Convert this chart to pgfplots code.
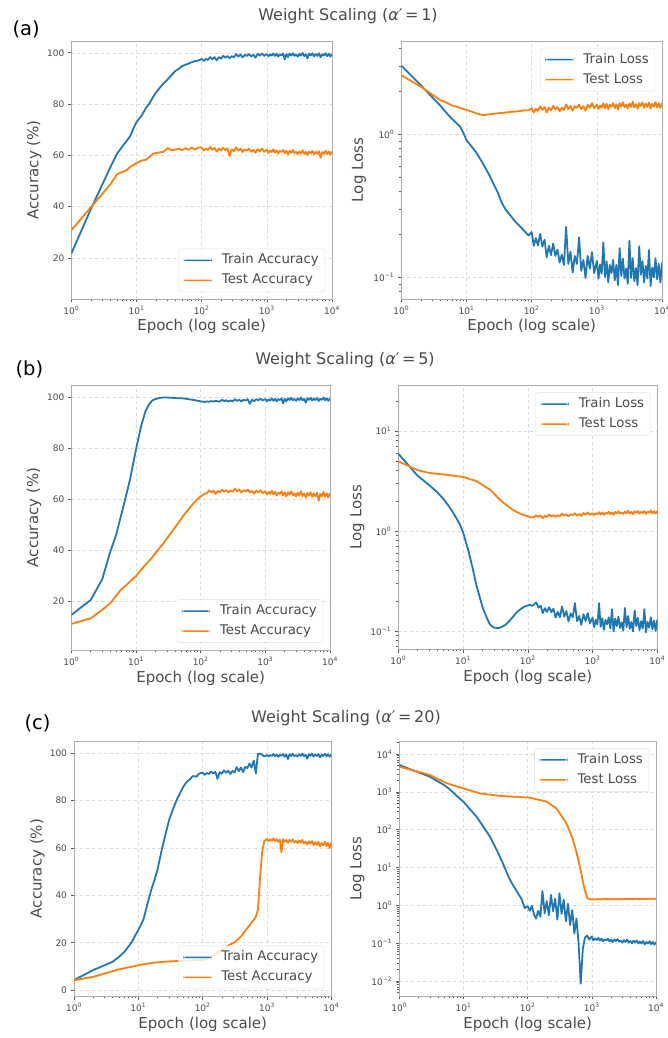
\documentclass[border=0pt]{standalone}
\usepackage{pgfplots}
\pgfplotsset{compat=1.18}
\usepackage{pgfplotstable}
\usepackage{fontspec}
\setmainfont{DejaVu Sans}
\definecolor{tabblue}{HTML}{1F77B4}
\definecolor{taborange}{HTML}{FF7F0E}
\definecolor{txt}{HTML}{4A4A4A}

\pgfplotstableread{
x atr ate ltr lte
1 21.7 30.8 3.02 2.59
2 39.1 39.8 2.2 2.15
3 48.7 45.0 1.81 1.89
4 55.5 48.8 1.58 1.73
5 60.5 52.6 1.40 1.66
6 63.3 53.5 1.28 1.59
7 65.5 54.2 1.20 1.56
8 67.5 55.5 1.13 1.53
9 70.5 56.3 1.02 1.50
10 73.0 57.0 0.91 1.48
12 75.5 58.0 0.82 1.44
14 78.5 58.3 0.75 1.40
16 80.5 59.5 0.68 1.38
18 82.8 60.7 0.62 1.36
20 84.5 60.9 0.57 1.37
23 86.5 61.2 0.505 1.38
26 88.0 61.4 0.45 1.39
30 89.6 62.8 0.394 1.40
35 91.5 62.0 0.33 1.41
40 93.0 62.3 0.297 1.42
45 93.8 62.6 0.278 1.43
50 94.8 62.0 0.262 1.44
56 95.3 62.8 0.245 1.44
63 95.8 62.2 0.232 1.45
70 96.3 63.0 0.221 1.46
80 96.8 62.3 0.207 1.47
90 97.0 63.1 0.196 1.47
100 97.6 63.0 0.207 1.52
108 96.8 61.9 0.166 1.42
116 97.6 62.7 0.188 1.51
125 97.2 62.1 0.167 1.46
135 98.3 63.3 0.201 1.57
146 97.5 62.2 0.164 1.48
158 98.3 62.9 0.183 1.55
170 97.0 61.5 0.138 1.42
184 98.3 62.6 0.166 1.54
198 97.7 61.9 0.143 1.47
214 98.8 63.0 0.172 1.58
231 98.1 62.0 0.141 1.49
249 98.7 62.7 0.156 1.55
269 97.9 59.8 0.127 1.45
290 98.7 62.3 0.144 1.53
313 98.2 61.7 0.122 1.48
338 99.5 63.1 0.225 1.62
365 98.5 61.8 0.124 1.50
394 99.3 62.6 0.151 1.58
425 98.2 61.3 0.108 1.46
459 99.2 62.3 0.141 1.57
495 98.8 61.8 0.124 1.53
534 99.5 62.6 0.19 1.61
576 98.6 61.4 0.111 1.50
622 99.2 62.1 0.132 1.57
671 98.1 61.0 0.099 1.46
724 99.6 62.4 0.141 1.61
781 98.9 61.6 0.115 1.53
843 99.7 62.6 0.150 1.65
910 98.8 61.4 0.107 1.52
1000 99.5 62.2 0.130 1.61
1059 98.7 61.0 0.098 1.50
1122 99.3 61.9 0.123 1.59
1189 98.9 61.3 0.106 1.54
1259 99.7 62.4 0.175 1.65
1334 98.8 61.1 0.100 1.52
1413 99.6 62.0 0.129 1.63
1496 98.5 60.7 0.092 1.50
1585 99.4 61.8 0.122 1.61
1679 99.0 61.3 0.107 1.56
1778 99.7 62.1 0.132 1.65
1884 97.4 60.8 0.095 1.52
1995 99.5 61.8 0.122 1.62
2113 98.3 60.4 0.088 1.49
2239 99.7 61.8 0.16 1.65
2371 98.9 61.0 0.102 1.56
2512 99.8 62.1 0.135 1.67
2661 98.8 60.8 0.098 1.54
2818 99.3 61.4 0.115 1.61
2985 98.5 60.4 0.090 1.52
3162 99.6 61.6 0.18 1.64
3350 98.9 60.7 0.099 1.55
3548 99.9 62.0 0.136 1.69
3758 98.7 60.5 0.094 1.54
3981 99.4 61.3 0.116 1.62
4217 97.8 60.2 0.088 1.51
4467 99.7 61.5 0.165 1.65
4732 99.0 60.8 0.104 1.58
5012 99.8 61.7 0.130 1.67
5309 98.6 60.4 0.092 1.53
5623 99.5 61.4 0.120 1.64
5957 98.8 60.6 0.098 1.55
6310 99.8 61.6 0.155 1.67
6683 98.3 59.1 0.087 1.51
7079 99.4 61.3 0.117 1.63
7499 98.9 60.6 0.100 1.56
7943 99.8 61.8 0.136 1.68
8414 98.7 60.5 0.097 1.54
8913 99.6 61.5 0.124 1.65
9441 98.5 60.3 0.092 1.53
10000 99.5 61.5 0.127 1.66
}\tA

\pgfplotstableread{
x atr ate ltr lte
1 14.8 11.3 5.93 4.97
2 20.7 13.5 3.55 4.05
3 28.7 16.8 2.87 3.80
4 39.5 19.4 2.44 3.72
5 46.6 22.5 2.08 3.67
6 54.6 25.0 1.78 3.62
7 61.3 26.4 1.53 3.57
8 67.3 27.8 1.32 3.53
9 73.7 29.0 1.15 3.50
10 79.5 30.0 0.97 3.47
12 88.7 32.5 0.645 3.34
14 94.5 34.4 0.43 3.24
16 97.3 36.0 0.29 3.15
18 98.8 37.5 0.221 3.01
20 99.3 39.0 0.173 2.88
23 99.7 40.9 0.138 2.72
26 99.9 42.5 0.116 2.59
30 99.9 44.7 0.108 2.36
35 99.8 47.0 0.107 2.13
40 99.7 49.0 0.110 1.97
45 99.6 50.8 0.115 1.85
50 99.6 52.4 0.123 1.75
56 99.5 54.2 0.133 1.66
63 99.3 55.7 0.146 1.59
70 99.1 57.2 0.157 1.53
80 98.9 58.9 0.168 1.47
90 98.6 60.2 0.176 1.43
100 98.4 61.2 0.180 1.40
108 98.3 61.8 0.183 1.37
116 98.1 62.3 0.178 1.37
125 98.4 62.4 0.184 1.38
135 98.2 63.5 0.193 1.435
146 98.5 62.75 0.171 1.38
158 98.3 63.5 0.179 1.43
170 98.6 62.2 0.151 1.34
184 98.4 63.35 0.169 1.42
198 98.35 62.8 0.155 1.38
214 99.0 63.85 0.173 1.46
231 98.5 63.05 0.154 1.40
249 98.85 63.6 0.167 1.44
269 98.3 62.75 0.136 1.38
290 98.75 63.5 0.156 1.44
313 98.4 63.0 0.137 1.40
338 99.25 64.3 0.176 1.49
365 98.55 63.2 0.139 1.42
394 99.05 63.9 0.158 1.47
425 98.35 62.75 0.125 1.40
459 99.0 63.65 0.150 1.47
495 98.75 63.2 0.137 1.44
534 99.25 63.85 0.19 1.50
576 97.4 62.75 0.125 1.42
622 99.0 63.35 0.141 1.48
671 98.45 62.3 0.115 1.41
724 99.25 63.55 0.147 1.51
781 98.8 62.75 0.126 1.46
843 99.45 63.6 0.151 1.53
910 98.75 62.45 0.119 1.45
1000 99.3 63.2 0.136 1.50
1059 98.45 61.95 0.109 1.44
1122 99.15 62.9 0.129 1.50
1189 98.7 62.25 0.116 1.47
1259 99.6 63.4 0.19 1.54
1334 98.6 61.95 0.110 1.46
1413 99.4 63.0 0.134 1.53
1496 98.4 61.6 0.103 1.45
1585 99.3 62.75 0.129 1.52
1679 98.9 62.2 0.117 1.49
1778 99.6 63.1 0.137 1.55
1884 97.6 61.65 0.106 1.47
1995 99.4 62.7 0.165 1.53
2113 98.4 61.2 0.099 1.45
2239 99.6 62.85 0.133 1.55
2371 98.9 61.85 0.112 1.50
2512 99.8 63.2 0.139 1.57
2661 98.8 61.55 0.107 1.49
2818 99.3 62.35 0.122 1.53
2985 98.6 61.15 0.101 1.48
3162 99.6 62.65 0.17 1.56
3350 98.9 61.55 0.109 1.50
3548 99.9 63.2 0.141 1.59
3758 98.8 61.3 0.105 1.49
3981 99.4 62.3 0.123 1.55
4217 97.9 60.85 0.099 1.47
4467 99.6 62.6 0.16 1.57
4732 99.0 61.65 0.112 1.52
5012 99.8 62.85 0.135 1.58
5309 98.7 61.0 0.102 1.49
5623 99.5 62.35 0.125 1.56
5957 98.9 61.25 0.106 1.51
6310 99.7 62.65 0.165 1.58
6683 98.5 59.5 0.097 1.48
7079 99.4 62.15 0.123 1.56
7499 99.0 61.3 0.108 1.52
7943 99.9 62.9 0.137 1.60
8414 98.8 61.1 0.104 1.50
8913 99.6 62.4 0.127 1.57
9441 98.6 60.8 0.100 1.49
10000 99.6 62.5 0.130 1.58
}\tB

\pgfplotstableread{
x atr ate ltr lte
1 4.2 4.2 5130 4630
2 8.5 5.6 3270 3360
3 10.5 7.0 2510 2790
4 12.0 8.0 1880 2190
5 14.0 8.7 1510 1815
6 16.0 9.2 1200 1600
7 18.3 9.6 940 1480
8 20.5 9.9 766 1380
9 23.2 10.2 638 1300
10 25.4 10.5 550 1240
12 29.8 10.9 382 1120
14 36.9 11.2 285 1040
16 42.6 11.4 221 970
18 46.8 11.6 164 912
20 51.2 11.7 126 890
23 58.9 11.9 88.5 863
26 65.0 12.0 65 839
30 71.7 12.1 40 813
35 76.8 12.2 23.5 789
40 80.7 12.3 14.3 778
45 83.4 12.4 8.96 767
50 85.9 12.5 5.9 759
56 87.8 12.5 4.0 750
63 89.0 12.6 2.88 741
70 90.4 12.6 2.14 735
80 90.2 12.7 1.49 724
90 91.6 12.7 0.85 713
100 91.8 12.8 0.95 705
108 90.9 13.0 0.72 702
116 91.7 13.3 0.98 684
125 91.3 13.6 0.58 661
135 92.3 14.0 0.45 641
146 91.5 14.5 0.72 622
158 92.2 15.0 0.50 603
170 89.2 15.6 2.4 585
184 92.1 16.2 0.62 566
198 91.4 16.8 1.3 550
214 92.8 17.5 0.55 502
231 91.8 18.2 1.9 458
249 92.7 18.8 0.70 420
269 91.3 19.3 1.5 383
290 92.6 19.7 0.42 339
313 91.9 20.2 2.1 277
338 94.2 21.0 0.60 229
365 92.5 21.8 1.4 189
394 94.0 22.6 0.38 156
425 92.1 23.9 1.1 118
459 94.3 25.0 0.30 85
495 93.8 26.2 0.75 62
534 95.7 27.3 0.18 41
576 94.0 28.5 0.45 25
622 97.0 29.6 0.10 14.7
671 91.5 31.0 0.0085 8.4
724 99.8 34.0 0.07 4.3
781 99.9 47.5 0.14 2.5
843 99.3 58.5 0.16 1.59
910 98.7 63.0 0.125 1.46
1000 99.3 63.8 0.15 1.44
1059 98.7 62.85 0.119 1.43
1122 99.3 63.66 0.132 1.46
1189 98.9 63.1 0.122 1.44
1259 99.7 64.05 0.139 1.47
1334 98.8 62.9 0.117 1.43
1413 99.6 63.75 0.132 1.46
1496 98.5 62.6 0.112 1.44
1585 99.4 63.55 0.127 1.52
1679 99.0 58.2 0.119 1.45
1778 99.7 63.76 0.132 1.47
1884 98.6 62.6 0.111 1.44
1995 99.5 63.4 0.125 1.47
2113 97.6 62.25 0.106 1.44
2239 99.6 63.5 0.126 1.48
2371 98.9 62.7 0.114 1.45
2512 99.8 63.65 0.129 1.48
2661 98.8 62.4 0.109 1.45
2818 99.3 63.0 0.117 1.47
2985 98.7 62.05 0.104 1.45
3162 99.6 63.15 0.120 1.48
3350 98.9 62.25 0.107 1.46
3548 99.9 63.45 0.125 1.49
3758 98.8 61.9 0.104 1.46
3981 99.4 62.7 0.114 1.48
4217 97.7 61.45 0.099 1.45
4467 99.6 62.9 0.117 1.49
4732 99.0 62.0 0.106 1.47
5012 99.8 62.95 0.117 1.50
5309 98.7 61.25 0.098 1.46
5623 99.5 62.45 0.111 1.49
5957 98.9 61.3 0.099 1.47
6310 99.7 62.65 0.114 1.50
6683 98.3 60.6 0.093 1.46
7079 99.4 62.1 0.107 1.49
7499 98.9 61.2 0.098 1.47
7943 99.8 62.7 0.113 1.51
8414 98.8 60.9 0.094 1.47
8913 99.6 62.2 0.107 1.50
9441 98.6 59.95 0.091 1.48
10000 99.6 62.2 0.107 1.51
}\tC

\newcommand{\tp}[1]{10\textsuperscript{#1}}

\pgfplotsset{
  legend image code/.code={\fill[#1, draw=none, fill opacity=1] (0pt,-0.8pt) rectangle (28pt,0.8pt);},
  /pgf/number format/assume math mode=true,
  every axis/.append style={
    scale only axis,
    xmin=1, xmax=10000,
    grid=major,
    major grid style={dashed, gray!30, line width=0.5pt},
    tick align=outside, xtick pos=bottom, ytick pos=left,
    major tick length=3.5pt, minor tick length=2pt,
    tick style={gray!70!black, line width=0.6pt},
    axis line style={gray!65, line width=0.8pt},
    xlabel={Epoch (log scale)},
    legend cell align=left,
  },
  every tick label/.append style={font=\fontsize{9}{11}\selectfont, text=txt},
  every axis label/.append style={font=\fontsize{15}{18}\selectfont, text=txt},
  every axis legend/.append style={font=\fontsize{13.3}{16}\selectfont, text=txt,
    draw=gray!25, fill=white, fill opacity=0.8, text opacity=1, draw opacity=1,
    rounded corners=2.5pt, inner xsep=5pt, inner ysep=4pt, row sep=5pt,
    nodes={inner xsep=1pt, inner ysep=2pt, text height=9pt, text depth=2pt},
    /tikz/every odd column/.style={column sep=9pt}},
  every axis plot/.append style={line width=1.8pt, line join=round},
}

\begin{document}
\begin{tikzpicture}
\useasboundingbox (0pt,0pt) rectangle (668pt,1038pt);

% ---------------- (a) ----------------
\begin{axis}[xmode=log, at={(71.3pt,739pt)}, anchor=south west, width=260.7pt, height=258pt,
  xtick={1,10,100,1000,10000},
  xticklabels={\tp{0},\tp{1},\tp{2},\tp{3},\tp{4}},
  minor xtick={2,3,4,5,6,7,8,9,20,30,40,50,60,70,80,90,200,300,400,500,600,700,800,900,2000,3000,4000,5000,6000,7000,8000,9000},
  ymin=4, ymax=104.6, ytick={20,40,60,80,100}, ylabel={Accuracy (\%)},
  legend style={at={(0.973,0.027)}, anchor=south east},
  xlabel style={at={(axis description cs:0.5,-0.105)}, anchor=center},
  ylabel style={at={(axis description cs:-0.142,0.5)}, anchor=center}]
\addplot[tabblue] table[x=x,y=atr]{\tA};
\addplot[taborange] table[x=x,y=ate]{\tA};
\legend{Train Accuracy, Test Accuracy}
\end{axis}

\begin{axis}[xmode=log, ymode=log, at={(401.3pt,739pt)}, anchor=south west, width=260.7pt, height=258pt,
  xtick={1,10,100,1000,10000},
  xticklabels={\tp{0},\tp{1},\tp{2},\tp{3},\tp{4}},
  minor xtick={2,3,4,5,6,7,8,9,20,30,40,50,60,70,80,90,200,300,400,500,600,700,800,900,2000,3000,4000,5000,6000,7000,8000,9000},
  ymin=0.0705, ymax=4.49, ylabel={Log Loss},
  ytick={0.1,1}, yticklabels={\tp{−1},\tp{0}},
  minor ytick={0.08,0.09,0.2,0.3,0.4,0.5,0.6,0.7,0.8,0.9,2,3,4},
  legend style={at={(0.973,0.973)}, anchor=north east},
  xlabel style={at={(axis description cs:0.5,-0.105)}, anchor=center},
  ylabel style={at={(axis description cs:-0.162,0.5)}, anchor=center}]
\addplot[tabblue] table[x=x,y=ltr]{\tA};
\addplot[taborange] table[x=x,y=lte]{\tA};
\legend{Train Loss, Test Loss}
\end{axis}

% ---------------- (b) ----------------
\begin{axis}[xmode=log, at={(71.3pt,388pt)}, anchor=south west, width=258.7pt, height=265pt,
  xtick={1,10,100,1000,10000},
  xticklabels={\tp{0},\tp{1},\tp{2},\tp{3},\tp{4}},
  minor xtick={2,3,4,5,6,7,8,9,20,30,40,50,60,70,80,90,200,300,400,500,600,700,800,900,2000,3000,4000,5000,6000,7000,8000,9000},
  ymin=1.1, ymax=104.8, ytick={20,40,60,80,100}, ylabel={Accuracy (\%)},
  legend style={at={(0.973,0.027)}, anchor=south east},
  xlabel style={at={(axis description cs:0.5,-0.106)}, anchor=center},
  ylabel style={at={(axis description cs:-0.144,0.5)}, anchor=center}]
\addplot[tabblue] table[x=x,y=atr]{\tB};
\addplot[taborange] table[x=x,y=ate]{\tB};
\legend{Train Accuracy, Test Accuracy}
\end{axis}

\begin{axis}[xmode=log, ymode=log, at={(398.3pt,388.7pt)}, anchor=south west, width=259pt, height=264pt,
  xtick={1,10,100,1000,10000},
  xticklabels={\tp{0},\tp{1},\tp{2},\tp{3},\tp{4}},
  minor xtick={2,3,4,5,6,7,8,9,20,30,40,50,60,70,80,90,200,300,400,500,600,700,800,900,2000,3000,4000,5000,6000,7000,8000,9000},
  ymin=0.0656, ymax=28.6, ylabel={Log Loss},
  ytick={0.1,1,10}, yticklabels={\tp{−1},\tp{0},\tp{1}},
  minor ytick={0.07,0.08,0.09,0.2,0.3,0.4,0.5,0.6,0.7,0.8,0.9,2,3,4,5,6,7,8,9,20},
  legend style={at={(0.973,0.973)}, anchor=north east},
  xlabel style={at={(axis description cs:0.5,-0.106)}, anchor=center},
  ylabel style={at={(axis description cs:-0.158,0.5)}, anchor=center}]
\addplot[tabblue] table[x=x,y=ltr]{\tB};
\addplot[taborange] table[x=x,y=lte]{\tB};
\legend{Train Loss, Test Loss}
\end{axis}

% ---------------- (c) ----------------
\begin{axis}[xmode=log, at={(74pt,42pt)}, anchor=south west, width=257.3pt, height=254.7pt,
  xtick={1,10,100,1000,10000},
  xticklabels={\tp{0},\tp{1},\tp{2},\tp{3},\tp{4}},
  minor xtick={2,3,4,5,6,7,8,9,20,30,40,50,60,70,80,90,200,300,400,500,600,700,800,900,2000,3000,4000,5000,6000,7000,8000,9000},
  ymin=-2.5, ymax=105.1, ytick={0,20,40,60,80,100}, ylabel={Accuracy (\%)},
  legend style={at={(0.973,0.027)}, anchor=south east},
  xlabel style={at={(axis description cs:0.5,-0.11)}, anchor=center},
  ylabel style={at={(axis description cs:-0.142,0.5)}, anchor=center}]
\addplot[tabblue] table[x=x,y=atr]{\tC};
\addplot[taborange] table[x=x,y=ate]{\tC};
\legend{Train Accuracy, Test Accuracy}
\end{axis}

\begin{axis}[xmode=log, ymode=log, at={(399.3pt,42pt)}, anchor=south west, width=256.7pt, height=254.7pt,
  xtick={1,10,100,1000,10000},
  xticklabels={\tp{0},\tp{1},\tp{2},\tp{3},\tp{4}},
  minor xtick={2,3,4,5,6,7,8,9,20,30,40,50,60,70,80,90,200,300,400,500,600,700,800,900,2000,3000,4000,5000,6000,7000,8000,9000},
  ymin=0.00402, ymax=21700, ylabel={Log Loss},
  ytick={0.01,0.1,1,10,100,1000,10000},
  yticklabels={\tp{−2},\tp{−1},\tp{0},\tp{1},\tp{2},\tp{3},\tp{4}},
  minor ytick={0.005,0.006,0.007,0.008,0.009,0.02,0.03,0.04,0.05,0.06,0.07,0.08,0.09,0.2,0.3,0.4,0.5,0.6,0.7,0.8,0.9,2,3,4,5,6,7,8,9,20,30,40,50,60,70,80,90,200,300,400,500,600,700,800,900,2000,3000,4000,5000,6000,7000,8000,9000,20000},
  legend style={at={(0.973,0.973)}, anchor=north east},
  xlabel style={at={(axis description cs:0.5,-0.11)}, anchor=center},
  ylabel style={at={(axis description cs:-0.163,0.5)}, anchor=center}]
\addplot[tabblue] table[x=x,y=ltr]{\tC};
\addplot[taborange] table[x=x,y=lte]{\tC};
\legend{Train Loss, Test Loss}
\end{axis}

% titles and panel letters
\node[anchor=base, font=\fontsize{16}{19}\selectfont, text=txt] at (348pt,1017.3pt) {Weight Scaling ({\itshape α}′\,=\,1)};
\node[anchor=base, font=\fontsize{16}{19}\selectfont, text=txt] at (345pt,673pt) {Weight Scaling ({\itshape α}′\,=\,5)};
\node[anchor=base, font=\fontsize{16}{19}\selectfont, text=txt] at (346pt,315.3pt) {Weight Scaling ({\itshape α}′\,=\,20)};
\node[anchor=base west, font=\fontsize{19.5}{23}\selectfont] at (9pt,1002pt) {(a)};
\node[anchor=base west, font=\fontsize{19.5}{23}\selectfont] at (12pt,662pt) {(b)};
\node[anchor=base west, font=\fontsize{19.5}{23}\selectfont] at (21pt,308.7pt) {(c)};
\end{tikzpicture}
\end{document}
